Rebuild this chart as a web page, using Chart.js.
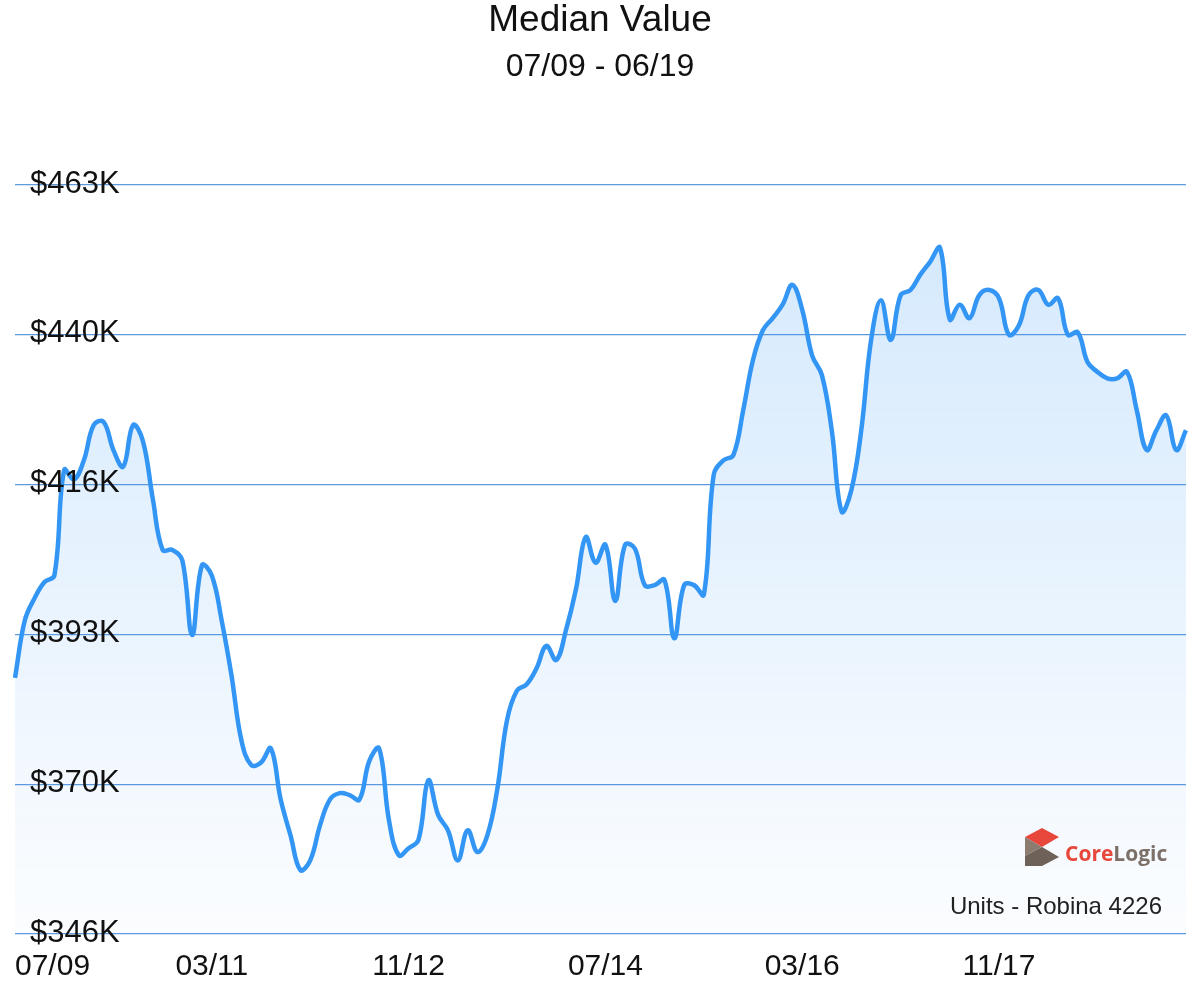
<!DOCTYPE html>
<html><head><meta charset="utf-8">
<script src="https://cdn.jsdelivr.net/npm/chart.js@4"></script>
<style>html,body{margin:0;padding:0;background:#fff}#wrap{width:1200px;height:996px;position:relative}</style>
</head><body><div id="wrap"><canvas id="c"></canvas></div>
<script>
const titleText = "Median Value";
const subtitleText = "07/09 - 06/19";
const footText = "Units - Robina 4226";
const xTickLabels = ["07/09","03/11","11/12","07/14","03/16","11/17"];
const yTickValues = [346,369.4,392.8,416.2,439.6,463];
const yTickLabels = ["$346K","$370K","$393K","$416K","$440K","$463K"];
const medianValues = [386,395,398.5,401,402,418.5,417,420,425.5,426,421.6,419,425.5,423,414,406,406,404.4,392.7,403.6,
402,395,386.4,376.3,372.4,372.8,375,367,361.4,356,357.5,363,367,368,367.7,367,373,375,363.8,358.3,
359.4,360.7,370,364.6,362.2,357.5,362.2,358.8,361.4,368.5,379.4,384,385,387.5,391,388.8,393.5,399.8,408,404,
406.8,398,406.8,406.2,400.5,400.5,401.3,392.2,400.5,400.5,399,417.7,420,420.8,427.8,435.7,440.3,442.2,444.3,447.4,
443.5,436.4,433.3,424.7,412,415.4,424.7,438.8,445,438.8,445.8,446.6,449,451,453.2,442,444.3,442.2,445.8,446.6,
445.3,439.6,441,445.8,446.6,444.3,445.3,439.6,440,435.3,433.8,432.8,432.8,433.8,427.8,421.6,424.7,427,421.6,424.7];
// month categories 07/09 .. 06/19
const months = [];
for (let i = 0; i < medianValues.length; i++) {
  const m = (6 + i) % 12 + 1, y = 9 + Math.floor((6 + i) / 12);
  months.push(String(m).padStart(2,"0") + "/" + String(y).padStart(2,"0"));
}
const FONT = "'Liberation Sans', Arial, sans-serif";
const deco = {
  id: "deco",
  afterDraw(chart) {
    const ctx = chart.ctx, xs = chart.scales.x, ys = chart.scales.y;
    ctx.save();
    ctx.fillStyle = "#111";
    ctx.textAlign = "center"; ctx.textBaseline = "middle";
    ctx.font = "37px " + FONT; ctx.fillText(titleText, 600, 21);
    ctx.font = "32px " + FONT; ctx.fillText(subtitleText, 600, 67);
    ctx.font = "31px " + FONT; ctx.textAlign = "left";
    yTickValues.forEach((v, i) => ctx.fillText(yTickLabels[i], 30, ys.getPixelForValue(v) - 1));
    ctx.font = "30px " + FONT;
    xTickLabels.forEach((l, i) => {
      const idx = months.indexOf(l);
      const px = xs.getPixelForValue(idx);
      ctx.textAlign = i === 0 ? "left" : "center";
      ctx.fillText(l, i === 0 ? 15 : px, 967);
    });
    ctx.font = "24px " + FONT; ctx.textAlign = "right"; ctx.fillStyle = "#222";
    ctx.fillText(footText, 1162, 907);
    // logo
    const lx = 1025, ly = 828;
    ctx.fillStyle = "#e8473b";
    ctx.beginPath(); ctx.moveTo(lx, ly+9); ctx.lineTo(lx+17, ly); ctx.lineTo(lx+34, ly+9); ctx.lineTo(lx+17, ly+19); ctx.closePath(); ctx.fill();
    ctx.fillStyle = "#8c7c70";
    ctx.beginPath(); ctx.moveTo(lx, ly+9); ctx.lineTo(lx+17, ly+19); ctx.lineTo(lx, ly+28); ctx.closePath(); ctx.fill();
    ctx.fillStyle = "#6e6158";
    ctx.beginPath(); ctx.moveTo(lx, ly+28); ctx.lineTo(lx+17, ly+19); ctx.lineTo(lx+34, ly+29); ctx.lineTo(lx+17, ly+38); ctx.lineTo(lx, ly+38); ctx.closePath(); ctx.fill();
    ctx.font = "bold 21px 'Open Sans', " + FONT; ctx.textAlign = "left";
    ctx.fillStyle = "#e8473b"; ctx.fillText("Core", 1065, 855);
    const w = ctx.measureText("Core").width;
    ctx.fillStyle = "#7d7068"; ctx.fillText("Logic", 1065 + w, 855);
    ctx.restore();
  }
};
new Chart(document.getElementById("c"), {
  type: "line",
  data: { labels: months, datasets: [{
    data: medianValues,
    borderColor: "#3396f5", borderWidth: 4.5, pointRadius: 0, tension: 0.4, fill: "start",
    backgroundColor: (c) => {
      const a = c.chart.chartArea; if (!a) return "rgba(51,150,245,0.15)";
      const g = c.chart.ctx.createLinearGradient(0, a.top, 0, a.bottom);
      g.addColorStop(0, "rgba(51,150,245,0.22)"); g.addColorStop(1, "rgba(51,150,245,0.02)");
      return g;
    }
  }]},
  options: {
    responsive: true, maintainAspectRatio: false, animation: false,
    layout: { padding: { top: 185, bottom: 54, left: 15, right: 14 } },
    plugins: { legend: { display: false }, tooltip: { enabled: false } },
    scales: {
      x: { display: true, ticks: { display: false }, grid: { display: false }, border: { display: false } },
      y: { min: 346, max: 463,
        afterBuildTicks: (s) => { s.ticks = yTickValues.map(v => ({ value: v })); },
        ticks: { display: false },
        grid: { color: "rgba(40,120,210,0.75)", lineWidth: 1.2, drawTicks: false },
        border: { display: false } }
    }
  },
  plugins: [deco]
});
</script></body></html>
